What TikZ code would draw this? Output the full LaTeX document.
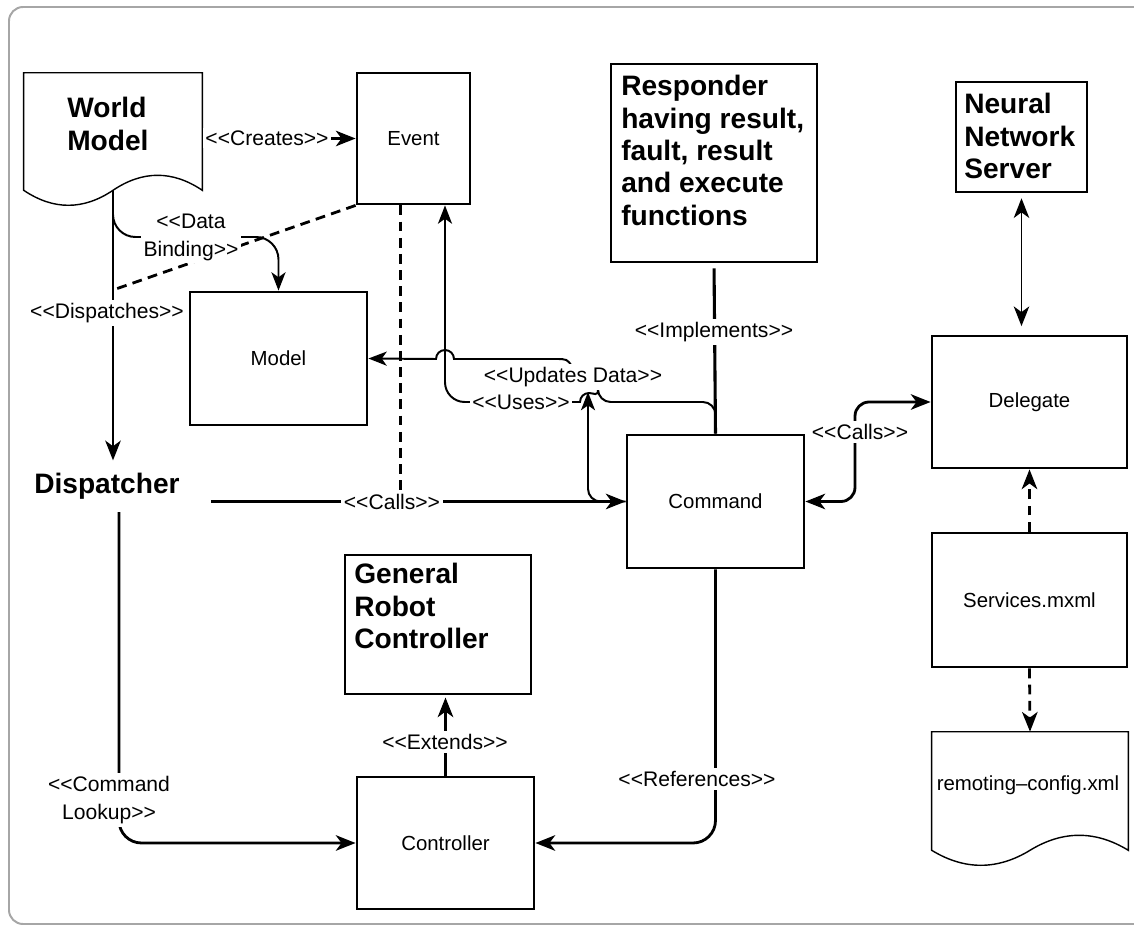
\documentclass[tikz,border=0pt]{standalone}
\usepackage{fontspec}
\setmainfont{Liberation Sans}
\usetikzlibrary{arrows.meta, calc}
\newcommand{\sopen}{<\kern0pt<}
\newcommand{\sclose}{>\kern0pt>}
\tikzstyle{frame} = [draw=gray!70, line width=1.4pt, rounded corners=10pt]
\tikzstyle{box} = [rectangle, draw=black, line width=2pt, inner sep=0pt, font=\fontsize{14.5}{17}\selectfont]
\tikzstyle{block} = [box, minimum width=4.425cm, minimum height=3.325cm]
\tikzstyle{thinbox} = [rectangle, draw=black, line width=0.9pt, inner sep=0pt]
\tikzstyle{docbody} = [rectangle, inner sep=0pt]
\tikzstyle{docline} = [draw=black, line width=1pt]
\tikzstyle{heading} = [anchor=north west, inner sep=0pt, align=left, font=\bfseries\fontsize{20}{23}\selectfont]
\tikzstyle{boxtext} = [inner sep=0pt, font=\fontsize{14.5}{17}\selectfont]
\tikzstyle{stereo} = [fill=white, inner sep=2pt, align=center, font=\fontsize{15}{20}\selectfont]
\tikzstyle{arrow} = [line width=2pt, -{Stealth[length=14pt, width=11pt, inset=4pt]}]
\tikzstyle{thinarrow} = [line width=1.4pt, -{Stealth[length=13pt, width=10pt, inset=3.5pt]}]
\tikzstyle{dblarrow} = [line width=2pt, {Stealth[length=14pt, width=11pt, inset=4pt]}-{Stealth[length=14pt, width=11pt, inset=4pt]}]
\tikzstyle{line} = [line width=2.2pt]
\tikzstyle{dashline} = [line width=2pt, dash pattern=on 7pt off 4.5pt]
\tikzstyle{dasharrow} = [dashline, -{Stealth[length=14pt, width=11pt, inset=4pt]}]
\begin{document}
\begin{tikzpicture}[x=0.025cm, y=-0.025cm]
\useasboundingbox (0,0) rectangle (1134,927);
\draw [frame] (9,7) rectangle (1170,924);

% boxes
\node (event) [box, minimum width=2.825cm, minimum height=3.275cm] at (413.5,138.5) {Event};
\node (model) [block] at (278.5,358.5) {Model};
\node (cmd) [block] at (715.5,501.5) {Command};
\node (ctrl) [block, minimum height=3.3cm] at (445.5,843) {Controller};
\node (dlg) [box, minimum width=4.875cm, minimum height=3.3cm] at (1029.5,402) {Delegate};
\node (svc) [box, minimum width=4.875cm, minimum height=3.35cm] at (1029.5,600) {Services.mxml};
\node (resp) [thinbox, minimum width=5.15cm, minimum height=4.95cm] at (714,163) {};
\node (nn) [thinbox, minimum width=3.275cm, minimum height=2.75cm] at (1021.5,137) {};
\node (grc) [thinbox, minimum width=4.65cm, minimum height=3.475cm] at (438,624.5) {};
\node (wm) [docbody, minimum width=4.45cm, minimum height=2.925cm] at (113,131.5) {};
\node (remote) [docbody, minimum width=4.9cm, minimum height=2.95cm] at (1030,791) {};

\draw [docline] (wm.north west) -- (wm.north east) -- (wm.south east)
  .. controls +(-29.7,-20) and +(29.7,-20) .. (wm.south)
  .. controls +(-29.7,20) and +(29.7,20) .. (wm.south west) -- cycle;
\draw [docline] (remote.north west) -- (remote.north east) -- (remote.south east)
  .. controls +(-32.7,-20) and +(32.7,-20) .. (remote.south)
  .. controls +(-32.7,20) and +(32.7,20) .. (remote.south west) -- cycle;

% texts
\node (wmtext) [heading] at (67,97) {World\\Model};
\node (resptext) [heading] at (621,75) {Responder\\having result,\\fault, result\\and execute\\functions};
\node (nntext) [heading] at (964,93) {Neural\\Network\\Server};
\node (grctext) [heading] at (354,563) {General\\Robot\\Controller};
\node (disp) [heading] at (34,473) {Dispatcher};
\node (remotetext) [boxtext] at (1028,785) {remoting–config.xml};

% connectors
\coordinate (dbstart) at (113,208);
\coordinate (dashend) at (113,290);
\coordinate (updtip) at (588,392);
\coordinate (updstart) at (572,367);
\coordinate (usesjump) at (598,402);
\coordinate (usesbend) at (445,402);
\coordinate (callsbend) at (855,432);
\coordinate (lookstart) at (119,512);

\draw [arrow] (wm.east |- event.west) -- (event.west);
\draw [arrow, shorten >=9pt] (wm.south) -- (wm.south |- disp.north);
\draw [thinarrow, rounded corners=16pt] (dbstart) |- (191,237) -| (model.north);
\draw [dashline] (event.south west) -- (dashend);
\draw [dashline] ([xshift=1.125cm]event.south west) -- ++(0,286);
\draw [arrow] ($(disp.east |- cmd.west)+(31,0)$) -- (cmd.west);
\draw [thinarrow, rounded corners=9pt] (cmd.west) -| (updtip);
\draw [thinarrow] (updstart) .. controls (568,359) and (566,359) .. (556,359) -- (454,359)
  arc[start angle=0, end angle=-180, radius=9] -- (model.east);
\draw [thinarrow] (cmd.north) [rounded corners=9pt] |- (usesjump) [sharp corners]
  arc[start angle=0, end angle=-180, radius=9] -- (575,402) [rounded corners=14pt]
  -- (usesbend) -- (usesbend |- event.south);
\draw [line, shorten <=4pt] (resp.south) -- (cmd.north);
\draw [dblarrow, rounded corners=10pt] (cmd.east) -| (callsbend) |- (dlg.west);
\draw [dblarrow, line width=1.3pt, shorten <=4pt, shorten >=6pt] (nn.south) -- (nn.south |- dlg.north);
\draw [dasharrow] (svc.north) -- (dlg.south);
\draw [dasharrow] (svc.south) -- (remote.north);
\draw [arrow, shorten >=2pt] (ctrl.north) -- (ctrl.north |- grc.south);
\draw [arrow, rounded corners=16pt] (lookstart) |- (ctrl.west);
\draw [arrow, rounded corners=16pt] (cmd.south) |- (ctrl.east);

% stereotypes
\node (creates) [stereo] at (267,138) {\sopen Creates\sclose};
\node (dispatches) [stereo] at (107,313) {\sopen Dispatches\sclose};
\node (databinding) [stereo] at (191,237) {\sopen Data\\Binding\sclose};
\node (updates) [stereo] at (573,377) {\sopen Updates Data\sclose};
\node (uses) [stereo] at (521,402) {\sopen Uses\sclose};
\node (callsleft) [stereo] at (392,502) {\sopen Calls\sclose};
\node (implements) [stereo] at (714,332) {\sopen Implements\sclose};
\node (callsright) [stereo] at (860,432) {\sopen Calls\sclose};
\node (extends) [stereo] at (445,742) {\sopen Extends\sclose};
\node (lookup) [stereo] at (109,800) {\sopen Command\\Lookup\sclose};
\node (references) [stereo] at (697,779) {\sopen References\sclose};
\end{tikzpicture}
\end{document}
